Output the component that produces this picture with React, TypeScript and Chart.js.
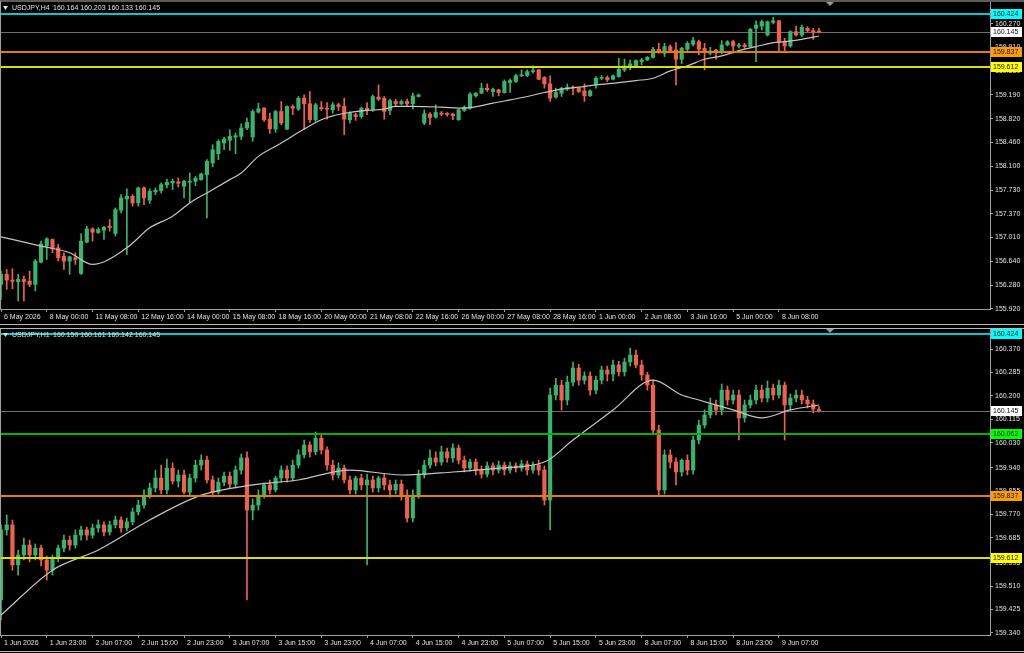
import { useEffect, useRef } from 'react';
import { Chart, registerables } from 'chart.js';

Chart.register(...registerables);

// ---------------- H4 panel (top) ----------------
const h4Open = [
  156.291, 156.444, 156.357, 156.332, 156.367, 156.342, 156.291, 156.631, 156.876, 156.977,
  156.850, 156.723, 156.647, 156.698, 156.459, 156.936, 157.140, 157.084, 157.119, 157.180,
  157.069, 157.424, 157.597, 157.638, 157.536, 157.765, 157.577, 157.704, 157.724, 157.811,
  157.841, 157.856, 157.790, 157.851, 157.866, 157.892, 157.968, 158.146, 158.288, 158.451,
  158.492, 158.542, 158.553, 158.680, 158.542, 158.923, 158.984, 158.816, 158.664, 158.933,
  158.664, 159.010, 158.969, 159.137, 159.050, 158.806, 158.994, 158.984, 158.959, 159.035,
  159.010, 158.806, 158.883, 158.857, 158.984, 158.959, 159.152, 159.137, 158.948, 159.086,
  159.050, 159.086, 159.050, 159.162, 158.756, 158.893, 158.847, 158.903, 158.898, 158.893,
  158.807, 158.949, 158.984, 159.172, 159.213, 159.289, 159.238, 159.264, 159.223, 159.375,
  159.391, 159.477, 159.482, 159.543, 159.568, 159.452, 159.355, 159.152, 159.213, 159.274,
  159.304, 159.289, 159.248, 159.172, 159.340, 159.441, 159.452, 159.426, 159.467, 159.568,
  159.609, 159.629, 159.696, 159.721, 159.762, 159.883, 159.823, 159.924, 159.873, 159.731,
  159.883, 159.960, 160.000, 159.899, 159.823, 159.873, 159.833, 159.950, 160.000, 159.934,
  159.950, 159.924, 160.204, 160.239, 160.102, 160.295, 160.320, 160.000, 159.934, 160.153,
  160.102, 160.204, 160.168, 160.164,
];
const h4High = [
  156.494, 156.520, 156.530, 156.444, 156.418, 156.494, 156.672, 156.952, 157.003, 156.987,
  156.901, 156.774, 156.723, 156.774, 157.069, 157.180, 157.155, 157.155, 157.180, 157.282,
  157.460, 157.663, 157.750, 157.663, 157.780, 157.780, 157.750, 157.765, 157.841, 157.902,
  157.902, 157.917, 157.882, 157.993, 157.943, 157.993, 158.197, 158.425, 158.502, 158.542,
  158.654, 158.603, 158.745, 158.832, 158.959, 159.060, 158.994, 158.908, 158.948, 159.086,
  159.020, 159.035, 159.162, 159.187, 159.238, 159.060, 159.086, 159.070, 159.070, 159.060,
  159.137, 158.933, 158.908, 159.000, 159.070, 159.187, 159.340, 159.162, 159.121, 159.121,
  159.110, 159.121, 159.213, 159.200, 158.959, 158.918, 159.035, 158.933, 158.918, 158.908,
  158.969, 159.020, 159.223, 159.223, 159.365, 159.355, 159.289, 159.274, 159.416, 159.431,
  159.502, 159.568, 159.568, 159.629, 159.579, 159.467, 159.477, 159.289, 159.304, 159.355,
  159.325, 159.304, 159.355, 159.264, 159.467, 159.482, 159.477, 159.492, 159.746, 159.731,
  159.721, 159.721, 159.746, 159.772, 159.914, 159.975, 159.975, 159.950, 159.985, 159.914,
  160.000, 160.066, 160.026, 159.975, 159.914, 159.883, 160.016, 160.016, 160.026, 159.975,
  159.975, 160.204, 160.320, 160.331, 160.315, 160.371, 160.320, 160.051, 160.168, 160.239,
  160.254, 160.229, 160.204, 160.203,
];
const h4Low = [
  156.063, 156.215, 156.225, 156.037, 156.037, 156.256, 156.190, 156.621, 156.672, 156.774,
  156.647, 156.520, 156.444, 156.596, 156.444, 156.926, 156.952, 157.069, 156.977, 157.104,
  157.028, 157.384, 156.749, 157.486, 157.486, 157.511, 157.526, 157.663, 157.689, 157.765,
  157.739, 157.780, 157.612, 157.536, 157.800, 157.882, 157.307, 158.085, 158.197, 158.349,
  158.339, 158.288, 158.502, 158.654, 158.476, 158.908, 158.781, 158.603, 158.613, 158.730,
  158.654, 158.883, 158.949, 158.654, 158.766, 158.781, 158.949, 158.816, 158.908, 158.949,
  158.578, 158.755, 158.796, 158.832, 158.883, 158.933, 159.100, 158.816, 158.883, 159.010,
  159.035, 159.020, 158.969, 159.152, 158.730, 158.730, 158.832, 158.867, 158.862, 158.807,
  158.797, 158.933, 158.969, 159.152, 159.203, 159.238, 159.162, 159.172, 159.213, 159.223,
  159.375, 159.467, 159.467, 159.518, 159.416, 159.289, 159.086, 159.137, 159.162, 159.254,
  159.187, 159.223, 159.086, 159.162, 159.289, 159.416, 159.391, 159.416, 159.457, 159.543,
  159.568, 159.619, 159.645, 159.711, 159.746, 159.823, 159.772, 159.848, 159.340, 159.660,
  159.863, 159.934, 159.797, 159.568, 159.797, 159.731, 159.812, 159.934, 159.823, 159.899,
  159.899, 159.914, 159.696, 160.178, 160.087, 160.270, 159.833, 159.848, 159.914, 160.087,
  160.077, 160.148, 160.036, 160.133,
];
const h4Close = [
  156.444, 156.357, 156.337, 156.367, 156.332, 156.291, 156.647, 156.911, 156.987, 156.835,
  156.698, 156.647, 156.713, 156.672, 156.952, 157.140, 157.089, 157.130, 157.165, 157.160,
  157.434, 157.612, 157.638, 157.536, 157.765, 157.612, 157.714, 157.729, 157.816, 157.851,
  157.866, 157.836, 157.866, 157.866, 157.912, 157.978, 158.171, 158.349, 158.476, 158.512,
  158.553, 158.563, 158.680, 158.766, 158.933, 158.974, 158.806, 158.669, 158.933, 158.756,
  159.010, 158.984, 159.137, 159.050, 158.806, 159.035, 158.974, 158.969, 159.035, 159.010,
  158.816, 158.908, 158.857, 158.984, 158.948, 159.162, 159.121, 158.933, 159.100, 159.050,
  159.086, 159.050, 159.172, 159.187, 158.898, 158.842, 158.918, 158.893, 158.888, 158.867,
  158.959, 158.999, 159.198, 159.213, 159.289, 159.264, 159.274, 159.223, 159.391, 159.406,
  159.482, 159.492, 159.543, 159.558, 159.426, 159.355, 159.137, 159.223, 159.289, 159.304,
  159.289, 159.238, 159.172, 159.248, 159.441, 159.452, 159.416, 159.477, 159.579, 159.629,
  159.660, 159.711, 159.721, 159.762, 159.883, 159.848, 159.924, 159.863, 159.731, 159.899,
  159.975, 160.016, 159.883, 159.833, 159.858, 159.848, 159.950, 160.000, 159.934, 159.950,
  159.924, 160.188, 160.254, 160.305, 160.305, 160.320, 160.000, 159.934, 160.153, 160.102,
  160.219, 160.168, 160.153, 160.145,
];
const h4MaBar = [0, 7, 12, 16, 22, 26, 30, 33, 36, 40, 42, 45, 49, 53, 56, 58, 61, 64, 67, 69, 72, 77, 81, 86, 89, 92, 95, 98, 101, 104, 108, 111, 114, 117, 120, 123, 126, 129, 132, 135, 137, 140, 143];
const h4MaValue = [157.018, 156.876, 156.774, 156.596, 156.850, 157.155, 157.333, 157.536, 157.689, 157.892, 157.993, 158.247, 158.451, 158.664, 158.806, 158.867, 158.918, 158.949, 158.969, 159.010, 159.010, 158.999, 158.984, 159.060, 159.111, 159.162, 159.223, 159.274, 159.304, 159.340, 159.375, 159.406, 159.441, 159.553, 159.629, 159.731, 159.782, 159.863, 159.924, 159.985, 160.000, 160.036, 160.087];
const h4TimeLabels = ['6 May 2026', '8 May 00:00', '11 May 08:00', '12 May 16:00', '14 May 00:00', '15 May 08:00', '18 May 16:00', '20 May 00:00', '21 May 08:00', '22 May 16:00', '26 May 00:00', '27 May 08:00', '28 May 16:00', '1 Jun 00:00', '2 Jun 08:00', '3 Jun 16:00', '5 Jun 00:00', '8 Jun 08:00'];
const h4PriceTicks = [155.92, 156.28, 156.64, 157.01, 157.37, 157.73, 158.1, 158.46, 158.82, 159.19, 159.55, 159.91, 160.27];

// ---------------- H1 panel (bottom) ----------------
const h1Open = [
  159.460, 159.714, 159.732, 159.587, 159.623, 159.659, 159.623, 159.648, 159.605, 159.568,
  159.612, 159.648, 159.677, 159.659, 159.695, 159.714, 159.695, 159.721, 159.732, 159.706,
  159.732, 159.750, 159.721, 159.743, 159.779, 159.804, 159.840, 159.866, 159.902, 159.859,
  159.938, 159.891, 159.913, 159.851, 159.902, 159.949, 159.967, 159.895, 159.851, 159.887,
  159.909, 159.880, 159.931, 159.975, 159.786, 159.804, 159.840, 159.877, 159.859, 159.902,
  159.931, 159.902, 159.949, 159.986, 160.022, 159.997, 160.047, 160.004, 159.949, 159.913,
  159.938, 159.895, 159.859, 159.902, 159.877, 159.895, 159.866, 159.902, 159.877, 159.859,
  159.880, 159.840, 159.757, 159.840, 159.913, 159.949, 159.975, 159.960, 159.997, 159.975,
  160.011, 159.967, 159.938, 159.960, 159.931, 159.916, 159.946, 159.931, 159.949, 159.931,
  159.946, 159.938, 159.953, 159.931, 159.949, 159.931, 159.822, 160.203, 160.239, 160.185,
  160.250, 160.301, 160.257, 160.272, 160.221, 160.257, 160.294, 160.279, 160.312, 160.287,
  160.323, 160.348, 160.312, 160.276, 160.239, 160.076, 159.859, 159.986, 159.960, 159.924,
  159.967, 159.931, 160.040, 160.094, 160.131, 160.167, 160.149, 160.221, 160.185, 160.203,
  160.120, 160.167, 160.185, 160.221, 160.192, 160.228, 160.203, 160.239, 160.167, 160.192,
  160.203, 160.185, 160.171, 160.150,
];
const h1High = [
  159.732, 159.768, 159.750, 159.641, 159.684, 159.677, 159.663, 159.659, 159.619, 159.623,
  159.659, 159.695, 159.692, 159.714, 159.728, 159.724, 159.735, 159.750, 159.743, 159.746,
  159.764, 159.761, 159.757, 159.793, 159.822, 159.859, 159.884, 159.931, 159.949, 159.971,
  159.957, 159.931, 159.931, 159.916, 159.967, 159.986, 159.982, 159.909, 159.902, 159.924,
  159.924, 159.946, 159.989, 159.997, 159.826, 159.859, 159.884, 159.895, 159.909, 159.946,
  159.946, 159.967, 160.004, 160.040, 160.033, 160.069, 160.062, 160.015, 159.967, 159.957,
  159.949, 159.909, 159.909, 159.916, 159.916, 159.909, 159.909, 159.916, 159.895, 159.895,
  159.895, 159.859, 159.859, 159.931, 159.967, 160.004, 159.997, 160.018, 160.011, 160.026,
  160.022, 159.982, 159.971, 159.971, 159.946, 159.960, 159.957, 159.964, 159.960, 159.960,
  159.957, 159.967, 159.964, 159.960, 159.967, 159.946, 160.228, 160.264, 160.257, 160.272,
  160.323, 160.315, 160.287, 160.287, 160.272, 160.308, 160.308, 160.330, 160.326, 160.337,
  160.373, 160.366, 160.330, 160.286, 160.257, 160.094, 160.004, 160.004, 159.975, 159.971,
  159.986, 160.054, 160.112, 160.149, 160.192, 160.185, 160.243, 160.236, 160.221, 160.221,
  160.185, 160.203, 160.239, 160.239, 160.254, 160.243, 160.257, 160.250, 160.207, 160.221,
  160.221, 160.199, 160.185, 160.161,
];
const h1Low = [
  159.387, 159.695, 159.568, 159.550, 159.605, 159.598, 159.605, 159.583, 159.532, 159.550,
  159.598, 159.634, 159.641, 159.648, 159.677, 159.677, 159.684, 159.706, 159.692, 159.695,
  159.721, 159.706, 159.710, 159.732, 159.768, 159.793, 159.829, 159.851, 159.844, 159.844,
  159.880, 159.869, 159.844, 159.840, 159.887, 159.931, 159.884, 159.833, 159.844, 159.873,
  159.866, 159.866, 159.916, 159.460, 159.750, 159.786, 159.829, 159.844, 159.851, 159.887,
  159.887, 159.891, 159.938, 159.975, 159.978, 159.986, 159.989, 159.931, 159.895, 159.902,
  159.884, 159.844, 159.844, 159.859, 159.587, 159.851, 159.851, 159.859, 159.833, 159.844,
  159.822, 159.743, 159.743, 159.829, 159.902, 159.938, 159.946, 159.949, 159.960, 159.960,
  159.953, 159.924, 159.927, 159.913, 159.902, 159.906, 159.913, 159.920, 159.913, 159.920,
  159.924, 159.927, 159.913, 159.920, 159.913, 159.804, 159.714, 160.185, 160.149, 160.167,
  160.236, 160.239, 160.243, 160.203, 160.207, 160.243, 160.254, 160.254, 160.272, 160.272,
  160.308, 160.301, 160.257, 160.221, 160.058, 159.840, 159.844, 159.938, 159.877, 159.909,
  159.913, 159.916, 160.026, 160.083, 160.120, 160.131, 160.131, 160.167, 160.171, 160.040,
  160.105, 160.156, 160.171, 160.178, 160.178, 160.185, 160.192, 160.040, 160.149, 160.178,
  160.171, 160.156, 160.138, 160.142,
];
const h1Close = [
  159.714, 159.732, 159.587, 159.623, 159.659, 159.623, 159.648, 159.605, 159.568, 159.612,
  159.648, 159.677, 159.659, 159.695, 159.714, 159.695, 159.721, 159.732, 159.706, 159.732,
  159.750, 159.721, 159.743, 159.779, 159.804, 159.840, 159.866, 159.902, 159.859, 159.938,
  159.891, 159.913, 159.851, 159.902, 159.949, 159.967, 159.895, 159.851, 159.887, 159.909,
  159.880, 159.931, 159.975, 159.786, 159.804, 159.840, 159.877, 159.859, 159.902, 159.931,
  159.902, 159.949, 159.986, 160.022, 159.997, 160.047, 160.004, 159.949, 159.913, 159.938,
  159.895, 159.859, 159.902, 159.877, 159.895, 159.866, 159.902, 159.877, 159.859, 159.880,
  159.840, 159.757, 159.840, 159.913, 159.949, 159.975, 159.960, 159.997, 159.975, 160.011,
  159.967, 159.938, 159.960, 159.931, 159.916, 159.946, 159.931, 159.949, 159.931, 159.946,
  159.938, 159.953, 159.931, 159.949, 159.931, 159.822, 160.203, 160.239, 160.185, 160.250,
  160.301, 160.257, 160.272, 160.221, 160.257, 160.294, 160.279, 160.312, 160.287, 160.323,
  160.348, 160.312, 160.276, 160.239, 160.076, 159.859, 159.986, 159.960, 159.924, 159.967,
  159.931, 160.040, 160.094, 160.131, 160.167, 160.149, 160.221, 160.185, 160.203, 160.120,
  160.167, 160.185, 160.221, 160.192, 160.228, 160.203, 160.239, 160.167, 160.192, 160.203,
  160.185, 160.171, 160.152, 160.145,
];
const h1MaBar = [0, 9, 17, 26, 35, 44, 52, 61, 70, 79, 87, 95, 100, 107, 114, 119, 122, 128, 133, 138, 143];
const h1MaValue = [159.405, 159.568, 159.641, 159.750, 159.840, 159.877, 159.895, 159.931, 159.913, 159.924, 159.938, 159.960, 160.040, 160.149, 160.257, 160.203, 160.185, 160.149, 160.120, 160.149, 160.167];
const h1TimeLabels = ['1 Jun 2026', '1 Jun 23:00', '2 Jun 07:00', '2 Jun 15:00', '2 Jun 23:00', '3 Jun 07:00', '3 Jun 15:00', '3 Jun 23:00', '4 Jun 07:00', '4 Jun 15:00', '4 Jun 23:00', '5 Jun 07:00', '5 Jun 15:00', '5 Jun 23:00', '8 Jun 07:00', '8 Jun 15:00', '8 Jun 23:00', '9 Jun 07:00'];
const h1PriceTicks = [159.34, 159.425, 159.51, 159.595, 159.685, 159.77, 159.855, 159.94, 160.03, 160.115, 160.2, 160.285, 160.37];

// levels
const levelHigh = 160.424;
const levelBid = 160.145;
const levelH1 = 160.062;
const levelMid = 159.837;
const levelLow = 159.612;

const GREEN = '#36b56d';
const RED = '#f2604c';
const AXIS = '#a0a0a0';
const TEXT = '#e0e0e0';
const FONT = "'Liberation Sans', Arial, sans-serif";

interface Level { value: number; line: string; width: number; badge: string; front: boolean; }
interface PanelSpec {
  height: number; plotTop: number; plotBottom: number;
  open: number[]; high: number[]; low: number[]; close: number[];
  maBar: number[]; maValue: number[];
  timeLabels: string[]; priceTicks: number[];
  yMin: number; yMax: number; levels: Level[];
  title: string; quote: string; headerY: number;
  lines: number[];
}

const X_MIN = -0.175;
const X_MAX = 172.9;

function buildPanel(canvas: HTMLCanvasElement, s: PanelSpec) {
  const idx = s.open.map((_, i) => i);
  const col = idx.map((i) => (s.close[i] >= s.open[i] ? GREEN : RED));
  const tickBars = s.timeLabels.map((_, k) => k * 8);

  const drawLevel = (c: any, lv: Level) => {
    const { ctx, chartArea: a, scales } = c;
    const y = Math.round(scales.y.getPixelForValue(lv.value)) + (lv.width % 2 ? 0.5 : 0);
    ctx.save();
    ctx.strokeStyle = lv.line;
    ctx.lineWidth = lv.width;
    ctx.beginPath();
    ctx.moveTo(a.left, y);
    ctx.lineTo(a.right, y);
    ctx.stroke();
    ctx.restore();
  };

  const overlay = {
    id: 'overlay',
    beforeDraw(c: any) {
      const { ctx, width, height } = c;
      ctx.save();
      ctx.fillStyle = '#000';
      ctx.fillRect(0, 0, width, height);
      ctx.restore();
    },
    beforeDatasetsDraw(c: any) {
      s.levels.filter((l) => !l.front).forEach((l) => drawLevel(c, l));
    },
    afterDatasetsDraw(c: any) {
      s.levels.filter((l) => l.front).forEach((l) => drawLevel(c, l));
    },
    afterDraw(c: any) {
      const { ctx, chartArea: a, scales, width } = c;
      ctx.save();
      ctx.strokeStyle = AXIS;
      ctx.lineWidth = 1;
      ctx.beginPath();
      ctx.moveTo(0.5, a.top - 1);
      ctx.lineTo(0.5, a.bottom);
      ctx.stroke();
      s.lines.forEach((ly) => {
        ctx.strokeStyle = '#b8b8b8';
        ctx.beginPath();
        ctx.moveTo(0, ly + 0.5);
        ctx.lineTo(width, ly + 0.5);
        ctx.stroke();
      });
      ctx.font = `7px ${FONT}`;
      ctx.textBaseline = 'middle';
      ctx.textAlign = 'left';
      s.levels.forEach((lv) => {
        const y = Math.round(scales.y.getPixelForValue(lv.value));
        ctx.fillStyle = lv.badge;
        ctx.fillRect(a.right + 1, y - 5, 31, 10);
        ctx.fillStyle = '#111';
        ctx.fillText(lv.value.toFixed(3), a.right + 3, y + 0.5);
      });
      const hy = s.headerY;
      ctx.fillStyle = TEXT;
      ctx.beginPath();
      ctx.moveTo(3, hy - 2);
      ctx.lineTo(8, hy - 2);
      ctx.lineTo(5.5, hy + 2);
      ctx.closePath();
      ctx.fill();
      ctx.fillText(s.title, 12, hy + 0.5);
      ctx.fillText(s.quote, 53, hy + 0.5);
      ctx.fillStyle = '#9a9a9a';
      ctx.beginPath();
      ctx.moveTo(826, a.top);
      ctx.lineTo(834, a.top);
      ctx.lineTo(830, a.top + 4);
      ctx.closePath();
      ctx.fill();
      ctx.restore();
    },
  };

  return new Chart(canvas, {
    type: 'bar',
    data: {
      datasets: [
        {
          type: 'line',
          data: s.maBar.map((b, k) => ({ x: b, y: s.maValue[k] })),
          borderColor: '#c4c4c4',
          borderWidth: 1.2,
          pointRadius: 0,
          cubicInterpolationMode: 'monotone',
          order: 1,
        } as any,
        {
          type: 'bar',
          data: idx.map((i) => ({ x: i, y: [s.low[i], s.high[i]] })),
          backgroundColor: col,
          borderWidth: 0,
          barThickness: 1,
          grouped: false,
          order: 3,
        } as any,
        {
          type: 'bar',
          data: idx.map((i) => ({ x: i, y: [s.open[i], s.close[i]] })),
          backgroundColor: col,
          borderWidth: 0,
          barThickness: 3.5,
          minBarLength: 1,
          grouped: false,
          order: 2,
        } as any,
      ],
    },
    options: {
      responsive: false,
      maintainAspectRatio: false,
      animation: false,
      devicePixelRatio: 1,
      events: [],
      layout: { padding: { top: s.plotTop, left: 0, right: 0, bottom: 0 } },
      plugins: { legend: { display: false }, tooltip: { enabled: false } },
      scales: {
        x: {
          type: 'linear',
          min: X_MIN,
          max: X_MAX,
          offset: false,
          afterBuildTicks: (sc: any) => {
            sc.ticks = tickBars.map((v) => ({ value: v }));
          },
          afterFit: (sc: any) => {
            sc.height = s.height - s.plotBottom;
            sc.paddingLeft = 0;
            sc.paddingRight = 0;
          },
          ticks: {
            autoSkip: false,
            maxRotation: 0,
            minRotation: 0,
            align: 'start',
            labelOffset: 3,
            padding: 1,
            color: TEXT,
            font: { family: FONT, size: 7 },
            callback: (_v: any, i: number) => s.timeLabels[i],
          },
          grid: { drawOnChartArea: false, drawTicks: true, tickLength: 3, color: AXIS, offset: false },
          border: { color: AXIS },
        },
        y: {
          position: 'right',
          min: s.yMin,
          max: s.yMax,
          afterBuildTicks: (sc: any) => {
            sc.ticks = s.priceTicks.map((v) => ({ value: v }));
          },
          afterFit: (sc: any) => {
            sc.width = 34;
            sc.paddingTop = 0;
            sc.paddingBottom = 0;
          },
          ticks: {
            padding: 2,
            color: TEXT,
            font: { family: FONT, size: 7 },
            callback: (v: any) => Number(v).toFixed(3),
          },
          grid: { drawOnChartArea: false, drawTicks: true, tickLength: 3, color: AXIS },
          border: { color: AXIS },
        },
      },
    } as any,
    plugins: [overlay as any],
  });
}

const topSpec: PanelSpec = {
  height: 326, plotTop: 2, plotBottom: 309,
  open: h4Open, high: h4High, low: h4Low, close: h4Close,
  maBar: h4MaBar, maValue: h4MaValue,
  timeLabels: h4TimeLabels, priceTicks: h4PriceTicks,
  yMin: 155.915, yMax: 160.606,
  levels: [
    { value: levelBid, line: '#6e6e6e', width: 1, badge: '#ffffff', front: false },
    { value: levelHigh, line: '#00c8d4', width: 2, badge: '#00ffff', front: true },
    { value: levelMid, line: '#dc8400', width: 2, badge: '#ff9c00', front: true },
    { value: levelLow, line: '#dede00', width: 2, badge: '#ffff00', front: true },
  ],
  title: 'USDJPY,H4', quote: '160.164 160.203 160.133 160.145', headerY: 8,
  lines: [0.5, 324],
};

const bottomSpec: PanelSpec = {
  height: 327, plotTop: 3, plotBottom: 309,
  open: h1Open, high: h1High, low: h1Low, close: h1Close,
  maBar: h1MaBar, maValue: h1MaValue,
  timeLabels: h1TimeLabels, priceTicks: h1PriceTicks,
  yMin: 159.3327, yMax: 160.4426,
  levels: [
    { value: levelBid, line: '#6e6e6e', width: 1, badge: '#ffffff', front: false },
    { value: levelHigh, line: '#00c8d4', width: 2, badge: '#00ffff', front: true },
    { value: levelH1, line: '#00b400', width: 2, badge: '#00ff00', front: true },
    { value: levelMid, line: '#dc8400', width: 2, badge: '#ff9c00', front: true },
    { value: levelLow, line: '#dede00', width: 2, badge: '#ffff00', front: true },
  ],
  title: 'USDJPY,H1', quote: '160.150 160.161 160.142 160.145', headerY: 9,
  lines: [2, 325],
};

export default function App() {
  const topRef = useRef<HTMLCanvasElement>(null);
  const botRef = useRef<HTMLCanvasElement>(null);
  useEffect(() => {
    document.body.style.margin = '0';
    const a = buildPanel(topRef.current as HTMLCanvasElement, topSpec);
    const b = buildPanel(botRef.current as HTMLCanvasElement, bottomSpec);
    return () => {
      a.destroy();
      b.destroy();
    };
  }, []);
  return (
    <div style={{ position: 'absolute', left: 0, top: 0, width: 1024, height: 653, background: '#000', overflow: 'hidden' }}>
      <canvas ref={topRef} width={1024} height={326} style={{ position: 'absolute', left: 0, top: 0, width: 1024, height: 326 }} />
      <canvas ref={botRef} width={1024} height={327} style={{ position: 'absolute', left: 0, top: 326, width: 1024, height: 327 }} />
    </div>
  );
}
